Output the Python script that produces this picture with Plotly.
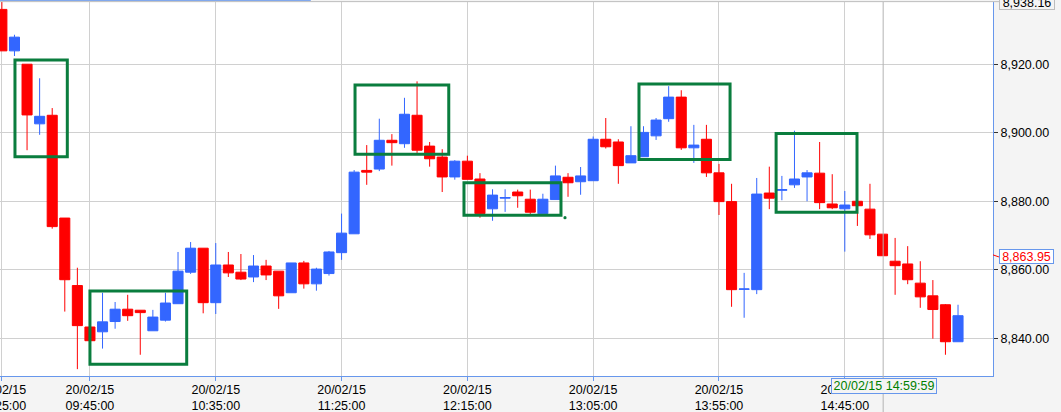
import pandas as pd
import plotly.graph_objects as go

# 5-minute bars: last bar of 19/02/15, then the 20/02/15 session
times = ["19/02/15 15:25:00"] + [
    t.strftime("20/02/15 %H:%M:%S")
    for t in pd.date_range("2015-02-20 09:15", "2015-02-20 15:30", freq="5min")
]

opens = [8936.0, 8923.9, 8920.0, 8902.6, 8905.1, 8875.1, 8855.4, 8843.3, 8841.9, 8844.9,
         8848.5, 8848.2, 8842.2, 8845.3, 8850.1, 8859.3, 8866.3, 8850.4, 8861.4, 8859.3,
         8857.9, 8861.1, 8859.6, 8853.3, 8862.0, 8855.9, 8858.9, 8865.0, 8870.5, 8889.0,
         8889.4, 8897.8, 8896.8, 8905.1, 8896.1, 8892.9, 8887.1, 8891.7, 8886.5, 8877.8,
         8880.9, 8882.7, 8880.6, 8876.4, 8880.5, 8887.0, 8885.7, 8886.0, 8898.1, 8897.3,
         8891.2, 8893.0, 8899.1, 8904.1, 8910.4, 8895.6, 8898.1, 8888.3, 8879.9, 8854.3,
         8854.2, 8882.4, 8883.2, 8884.8, 8887.1, 8888.2, 8879.2, 8877.8, 8880.0, 8877.7,
         8870.4, 8862.5, 8861.7, 8856.1, 8852.4, 8849.8, 8839.0]
highs = [8940.0, 8928.6, 8920.0, 8915.9, 8907.2, 8875.1, 8860.6, 8843.3, 8853.3, 8850.6,
         8852.7, 8848.2, 8848.3, 8853.3, 8865.2, 8868.1, 8866.3, 8867.8, 8865.2, 8864.6,
         8864.3, 8862.9, 8859.6, 8862.0, 8862.6, 8860.6, 8865.5, 8876.4, 8889.1, 8896.4,
         8904.1, 8899.6, 8910.2, 8915.0, 8897.3, 8895.2, 8892.0, 8893.3, 8888.2, 8883.5,
         8883.5, 8883.4, 8883.4, 8882.2, 8890.4, 8888.2, 8890.0, 8898.9, 8904.3, 8898.1,
         8901.9, 8901.9, 8904.3, 8913.6, 8912.4, 8902.3, 8902.3, 8890.9, 8885.1, 8859.1,
         8886.8, 8890.1, 8887.4, 8900.6, 8889.1, 8897.3, 8887.9, 8883.0, 8880.6, 8885.1,
         8870.4, 8869.3, 8866.9, 8862.5, 8857.0, 8850.0, 8849.8]
lows = [8923.9, 8922.4, 8894.9, 8899.4, 8872.0, 8847.8, 8831.0, 8839.3, 8837.0, 8842.8,
        8845.1, 8835.2, 8842.2, 8844.9, 8850.1, 8858.8, 8847.3, 8847.1, 8857.9, 8857.0,
        8856.4, 8857.0, 8848.6, 8853.3, 8854.5, 8853.9, 8858.3, 8862.9, 8870.5, 8884.8,
        8888.8, 8890.4, 8895.6, 8894.1, 8890.1, 8882.7, 8886.3, 8886.4, 8875.2, 8874.3,
        8876.9, 8878.1, 8876.3, 8876.4, 8880.5, 8881.3, 8881.9, 8886.0, 8895.4, 8885.1,
        8891.2, 8893.0, 8897.9, 8903.2, 8895.0, 8891.2, 8887.1, 8876.0, 8849.2, 8846.0,
        8852.9, 8877.7, 8880.3, 8883.9, 8880.0, 8877.7, 8877.7, 8865.3, 8872.8, 8869.0,
        8864.1, 8852.7, 8855.8, 8848.9, 8839.9, 8835.2, 8839.0]
closes = [8923.9, 8927.9, 8905.2, 8904.8, 8872.6, 8857.1, 8843.7, 8839.3, 8844.8, 8848.5,
          8846.6, 8847.5, 8846.2, 8850.3, 8859.6, 8866.3, 8850.4, 8861.4, 8859.1, 8857.3,
          8861.1, 8858.5, 8852.4, 8862.0, 8855.9, 8860.2, 8865.2, 8870.7, 8888.5, 8888.5,
          8897.8, 8897.1, 8905.4, 8894.9, 8892.4, 8887.1, 8891.7, 8886.4, 8876.4, 8881.8,
          8881.1, 8881.6, 8876.8, 8880.6, 8887.4, 8885.4, 8887.4, 8898.1, 8895.9, 8890.4,
          8893.3, 8900.1, 8903.7, 8910.4, 8895.6, 8896.4, 8888.3, 8879.9, 8854.2, 8854.4,
          8882.1, 8880.9, 8883.4, 8886.5, 8888.3, 8879.6, 8878.1, 8878.9, 8878.7, 8870.2,
          8864.1, 8861.2, 8857.1, 8852.1, 8848.4, 8839.0, 8846.6]

# labelled bars on the time axis
tick_times = ["19/02/15 15:25:00", "20/02/15 09:45:00", "20/02/15 10:35:00",
              "20/02/15 11:25:00", "20/02/15 12:15:00", "20/02/15 13:05:00",
              "20/02/15 13:55:00", "20/02/15 14:45:00"]
price_ticks = [8840, 8860, 8880, 8900, 8920]
y_max = 8938.16
last_price = 8863.95
cursor_label = "20/02/15 14:59:59"

# pattern boxes (bar index from, bar index to, price low, price high)
pattern_boxes = [
    (1.04, 5.2, 8893.0, 8921.2),
    (7.0, 14.69, 8832.4, 8853.8),
    (28.07, 35.52, 8893.7, 8913.9),
    (36.73, 44.44, 8875.9, 8885.4),
    (50.64, 57.88, 8892.2, 8914.2),
    (61.54, 67.97, 8876.8, 8899.8),
]

RED = "#ff0000"
BLUE = "#3366ff"
GREEN = "#0a7d3e"
AXIS_BLUE = "#6797ec"
FONT = "Liberation Sans, Arial, sans-serif"
FS = 12.5

fig = go.Figure()
fig.add_trace(go.Candlestick(
    x=times, open=opens, high=highs, low=lows, close=closes,
    increasing=dict(line=dict(color=BLUE, width=1), fillcolor=BLUE),
    decreasing=dict(line=dict(color=RED, width=1), fillcolor=RED),
    whiskerwidth=0,
    showlegend=False,
    hoverinfo="skip",
))

for x0, x1, y0, y1 in pattern_boxes:
    fig.add_shape(type="rect", xref="x", yref="y", x0=x0, x1=x1, y0=y0, y1=y1,
                  line=dict(color=GREEN, width=3), fillcolor="rgba(0,0,0,0)")

# little dot at the corner of the 4th box
fig.add_shape(type="circle", xref="x", yref="y", xsizemode="pixel", ysizemode="pixel",
              xanchor=44.76, yanchor=8875.2, x0=-1.6, x1=1.6, y0=-1.6, y1=1.6,
              line=dict(color=GREEN, width=0), fillcolor=GREEN)

# crosshair at the cursor bar
fig.add_shape(type="line", xref="x", yref="paper", x0=70.05, x1=70.05, y0=-0.11, y1=1,
              line=dict(color="#b4b4b4", width=1))

# frame lines on top
fig.add_shape(type="line", xref="paper", yref="paper", x0=0, x1=1.006, y0=1.001, y1=1.001,
              line=dict(color="#bdbdbd", width=1))
fig.add_shape(type="line", xref="paper", yref="paper", x0=0, x1=0.313, y0=1.0045, y1=1.0045,
              line=dict(color=AXIS_BLUE, width=1))

# red marker for the last price on the axis
fig.add_shape(type="line", xref="paper", yref="y", x0=1.0, x1=1.006,
              y0=last_price + 0.4, y1=last_price - 0.2, line=dict(color=RED, width=1))

fig.add_annotation(xref="paper", yref="y", x=1.034, y=last_price, text=f"{last_price:,.2f}",
                   xanchor="center", yanchor="middle", showarrow=False,
                   font=dict(family=FONT, size=FS, color=RED),
                   bgcolor="#ffffff", bordercolor=AXIS_BLUE, borderwidth=1, borderpad=0,
                   width=53, height=13)
fig.add_annotation(xref="paper", yref="y", x=1.034, y=y_max, text=f"{y_max:,.2f}",
                   xanchor="center", yanchor="middle", showarrow=False,
                   font=dict(family=FONT, size=FS, color="#000000"),
                   bgcolor="#f4f4f4", bordercolor="#bdbdbd", borderwidth=1, borderpad=0,
                   width=54, height=13)
fig.add_annotation(xref="paper", yref="paper", x=0.8905, y=-0.0275, text=cursor_label,
                   xanchor="center", yanchor="middle", showarrow=False,
                   font=dict(family=FONT, size=FS, color="#008000"),
                   bgcolor="#f4f4f4", bordercolor=AXIS_BLUE, borderwidth=1, borderpad=0,
                   width=104, height=14)

fig.update_layout(
    width=1061, height=412,
    margin=dict(l=0, r=68, t=2, b=36, autoexpand=False),
    paper_bgcolor="#f4f4f4",
    plot_bgcolor="#ffffff",
    font=dict(family=FONT, size=FS, color="#000000"),
    boxgap=0.2, boxgroupgap=0,
    showlegend=False,
    hovermode=False,
    xaxis=dict(
        type="category",
        range=[-0.15, 78.78],
        rangeslider=dict(visible=False),
        tickmode="array",
        tickvals=tick_times,
        ticktext=[t.replace(" ", "<br>") for t in tick_times],
        showgrid=True, gridcolor="#d0d0d0", gridwidth=1,
        showline=True, linecolor=AXIS_BLUE, linewidth=1,
        ticks="outside", ticklen=4, tickcolor=AXIS_BLUE,
        ticklabelstandoff=-2,
        tickfont=dict(family=FONT, size=FS, color="#000000"),
        zeroline=False, fixedrange=True, automargin=False,
    ),
    yaxis=dict(
        side="right",
        range=[8829.0, y_max],
        tickmode="array",
        tickvals=price_ticks,
        tickformat=",.2f",
        showgrid=True, gridcolor="#d0d0d0", gridwidth=1,
        showline=True, linecolor=AXIS_BLUE, linewidth=1,
        ticks="outside", ticklen=4, tickcolor="#333333",
        tickfont=dict(family=FONT, size=FS, color="#000000"),
        zeroline=False, fixedrange=True, automargin=False,
    ),
)

fig.write_html("out.html", config={"displayModeBar": False},
               post_script="document.body.style.margin='0px';")
